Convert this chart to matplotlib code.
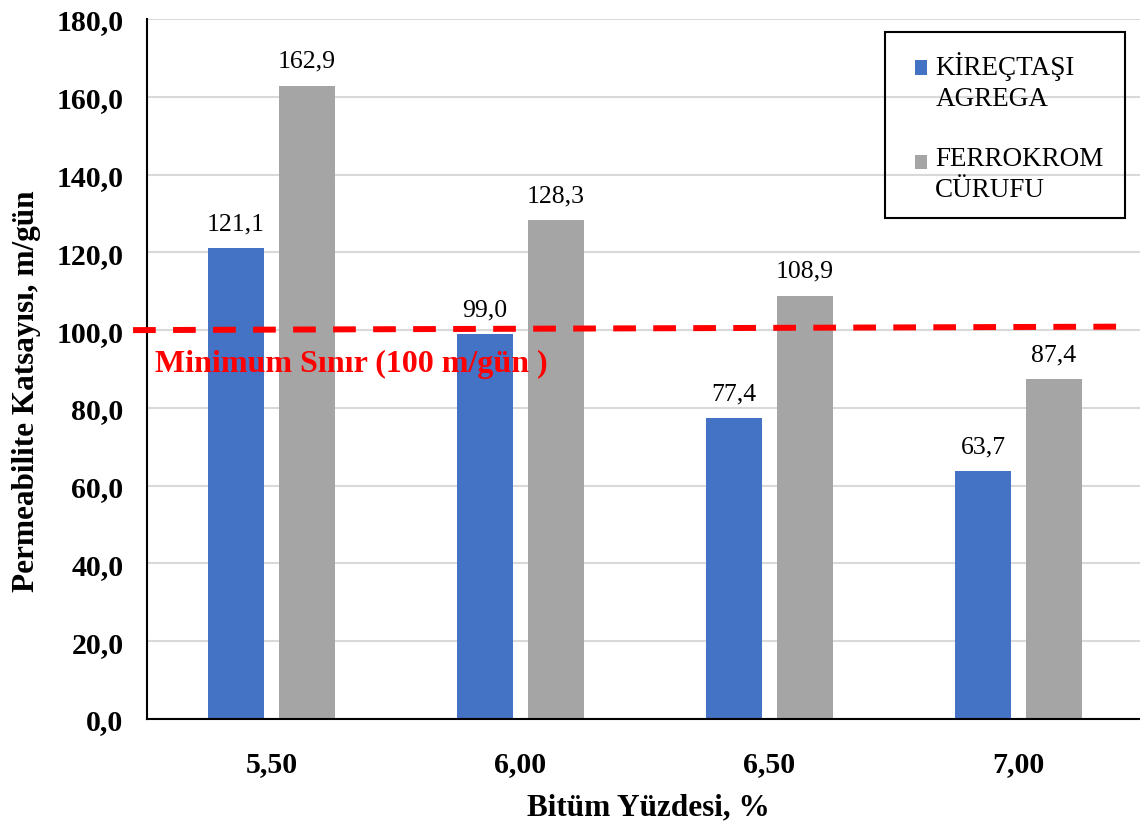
import numpy as np
import matplotlib.pyplot as plt
from matplotlib.patches import Rectangle
from matplotlib.offsetbox import HPacker
from matplotlib.container import BarContainer
from matplotlib.legend_handler import HandlerPatch, update_from_first_child

plt.rcParams['font.family'] = ['Liberation Serif', 'DejaVu Serif']

categories = ['5,50', '6,00', '6,50', '7,00']
kirectasi = [121.1, 99.0, 77.4, 63.7]
ferrokrom = [162.9, 128.3, 108.9, 87.4]
series_names = ['KİREÇTAŞI\nAGREGA', 'FERROKROM\nCÜRUFU']
limit_x = [-0.556, 3.43]
limit_y = [100.0, 100.9]
yticks = np.arange(0, 181, 20)

W, H = 1140, 828
fig = plt.figure(figsize=(W / 100, H / 100), dpi=100)
ax = fig.add_axes([147 / W, 108 / H, 996 / W, 700 / H])

x = np.arange(len(categories))
off = 0.1426
bw = 0.225
b1 = ax.bar(x - off, kirectasi, bw, color='#4472C4', label=series_names[0], zorder=2)
b2 = ax.bar(x + off, ferrokrom, bw, color='#A5A5A5', label=series_names[1], zorder=2)

for bars, vals in ((b1, kirectasi), (b2, ferrokrom)):
    for r, v in zip(bars, vals):
        ax.text(r.get_x() + r.get_width() / 2, v + 3.6, f'{v:.1f}'.replace('.', ','),
                ha='center', va='bottom', fontsize=18.5)

# minimum permeability limit
ax.plot(limit_x, limit_y, color='#FF0000', lw=4.3, dashes=(3.8, 2.9), clip_on=False, zorder=3)
ax.text(-0.468, 91.5, 'Minimum Sınır (100 m/gün )', color='#FF0000', fontsize=23,
        fontweight='bold', va='center', ha='left')

ax.set_xlim(-0.5, 3.5)
ax.set_ylim(0, 180)
ax.set_yticks(yticks)
ax.set_yticklabels([f'{t:.1f}'.replace('.', ',') for t in yticks], fontsize=21.5, fontweight='bold')
ax.set_xticks(x)
ax.set_xticklabels(categories, fontsize=21.5, fontweight='bold')
ax.tick_params(length=0, pad=17)
ax.tick_params(axis='x', pad=22)
ax.yaxis.grid(True, color='#D9D9D9', lw=1.5, zorder=0)
ax.set_axisbelow(True)
for s in ('top', 'right'):
    ax.spines[s].set_visible(False)
ax.spines['left'].set_linewidth(1.5)
ax.spines['bottom'].set_linewidth(1.5)

fig.text(648 / W, 1 - 808 / H, 'Bitüm Yüzdesi, %', fontsize=22.5, fontweight='bold',
         ha='center', va='center')
fig.text(27 / W, 1 - 391 / H, 'Permeabilite Katsayısı, m/gün', rotation=90, fontsize=22.5,
         fontweight='bold', ha='center', va='center')


def square_on_first_line(legend, orig_handle, xdescent, ydescent, width, height, fontsize):
    # push the swatch down so it sits beside the first text line
    return Rectangle((-xdescent, -ydescent - 6.5), width, height)


# legend without its own frame; the box is drawn separately
leg = ax.legend(loc='upper left', bbox_to_anchor=(915 / W, 1 - 52 / H),
                bbox_transform=fig.transFigure, fontsize=19.5, frameon=False,
                handlelength=0.45, handleheight=0.45, handletextpad=0.3,
                labelspacing=1.3, borderpad=0, borderaxespad=0,
                handler_map={BarContainer: HandlerPatch(patch_func=square_on_first_line,
                                                        update_func=update_from_first_child)})
for t in leg.get_texts():
    t.set_linespacing(1.3)
for hp in leg.findobj(HPacker):
    hp.align = 'top'
fig.patches.append(Rectangle((885 / W, 1 - 219 / H), 240 / W, 186 / H, transform=fig.transFigure,
                             fill=False, edgecolor='black', lw=1.5))

fig.savefig('out.png', dpi=100)
